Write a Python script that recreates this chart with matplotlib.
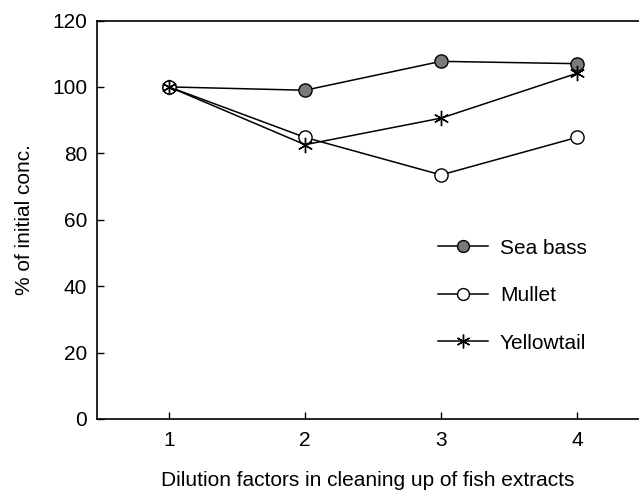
import matplotlib
matplotlib.use("Agg")
import matplotlib.pyplot as plt

plt.rcParams['font.family'] = ['Liberation Sans', 'DejaVu Sans']

dilution = [1, 2, 3, 4]
sea_bass = [100, 99.0, 107.7, 107.0]
mullet = [100, 84.8, 73.5, 84.8]
yellowtail = [100, 82.6, 90.6, 104.1]
yticks = [0, 20, 40, 60, 80, 100, 120]

fig = plt.figure(figsize=(6.39, 4.91), dpi=100)
ax = fig.add_axes([97/639, 1 - 419/491, 1 - 97/639, (419 - 20.5)/491])

ax.plot(dilution, sea_bass, color='black', lw=1.1, marker='o', ms=9.5,
        mfc='#7a7a7a', mec='black', mew=1.0, label='Sea bass')
ax.plot(dilution, mullet, color='black', lw=1.1, marker='o', ms=9.5,
        mfc='white', mec='black', mew=1.0, label='Mullet')
ax.plot(dilution, yellowtail, color='black', lw=1.1, marker=(6, 2, 0), ms=11,
        mec='black', mew=1.0, label='Yellowtail')

ax.set_xlim(0.47, 4.456)
ax.set_ylim(0, 120)
ax.set_xticks(dilution)
ax.set_yticks(yticks)
ax.tick_params(direction='in', length=5, width=1, labelsize=15)
ax.tick_params(axis='y', pad=7)
ax.tick_params(axis='x', pad=9)
ax.spines['right'].set_visible(False)
for s in ['left', 'top', 'bottom']:
    ax.spines[s].set_linewidth(1.2)

ax.set_xlabel('Dilution factors in cleaning up of fish extracts', fontsize=15, labelpad=15)
ax.set_ylabel('% of initial conc.', fontsize=15, labelpad=13)

ax.legend(loc='upper left', bbox_to_anchor=(0.594, 0.50), frameon=False,
          fontsize=15, handlelength=2.4, labelspacing=1.37, handletextpad=0.58,
          markerscale=0.9)

fig.savefig('out.png', dpi=100)
